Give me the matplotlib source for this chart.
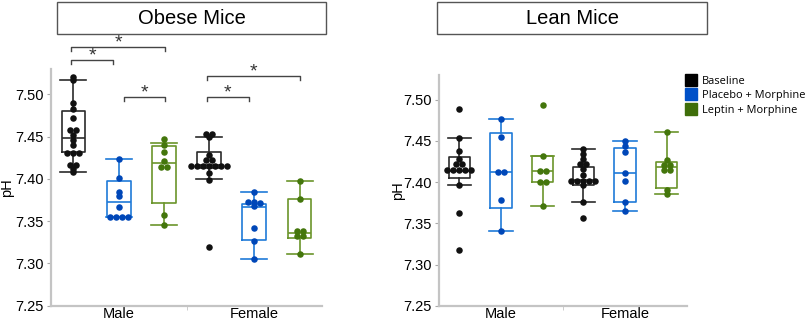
import numpy as np
import matplotlib
matplotlib.use("Agg")
import matplotlib.pyplot as plt
from matplotlib.lines import Line2D
from matplotlib.patches import Rectangle

plt.rcParams['font.family'] = ['Liberation Sans', 'DejaVu Sans']

sexes = ['Male', 'Female']
treatments = ['Baseline', 'Placebo + Morphine', 'Leptin + Morphine']
dot_colors = ['#111111', '#0047b8', '#44760c']
box_colors = ['#2b2b2b', '#1f7ad8', '#6b952b']

# individual pH values, obese mice
obese_male_base = [7.521, 7.517, 7.490, 7.483, 7.472, 7.458, 7.458, 7.452, 7.446, 7.440,
                   7.431, 7.431, 7.431, 7.416, 7.416, 7.412, 7.408]
obese_male_plac = [7.423, 7.401, 7.385, 7.380, 7.367, 7.355, 7.355, 7.355, 7.355]
obese_male_lept = [7.447, 7.440, 7.432, 7.421, 7.414, 7.414, 7.357, 7.345]
obese_fem_base = [7.453, 7.453, 7.450, 7.428, 7.422, 7.422, 7.415, 7.415, 7.415, 7.415,
                  7.415, 7.415, 7.415, 7.407, 7.399, 7.320]
obese_fem_plac = [7.384, 7.373, 7.373, 7.372, 7.368, 7.342, 7.327, 7.305]
obese_fem_lept = [7.398, 7.376, 7.338, 7.338, 7.332, 7.332, 7.311]

# individual pH values, lean mice
lean_male_base = [7.489, 7.453, 7.438, 7.428, 7.422, 7.422, 7.415, 7.415, 7.415, 7.415,
                  7.415, 7.397, 7.363, 7.318]
lean_male_plac = [7.476, 7.455, 7.412, 7.412, 7.378, 7.341]
lean_male_lept = [7.494, 7.432, 7.414, 7.414, 7.400, 7.400, 7.371]
lean_fem_base = [7.440, 7.434, 7.428, 7.422, 7.422, 7.416, 7.409, 7.401, 7.401, 7.401,
                 7.401, 7.401, 7.396, 7.376, 7.356]
lean_fem_plac = [7.450, 7.444, 7.436, 7.411, 7.401, 7.376, 7.365]
lean_fem_lept = [7.461, 7.427, 7.421, 7.421, 7.415, 7.415, 7.391, 7.385]

# box stats: (whisker low, q1, median, q3, whisker high)
obese_box = [(7.408, 7.432, 7.448, 7.480, 7.517),
             (7.355, 7.355, 7.373, 7.397, 7.423),
             (7.345, 7.371, 7.419, 7.439, 7.443),
             (7.400, 7.413, 7.416, 7.432, 7.449),
             (7.305, 7.328, 7.367, 7.370, 7.384),
             (7.311, 7.3305, 7.3365, 7.376, 7.3975)]
lean_box = [(7.397, 7.405, 7.414, 7.431, 7.453),
            (7.341, 7.369, 7.4125, 7.460, 7.476),
            (7.371, 7.400, 7.413, 7.432, 7.432),
            (7.376, 7.397, 7.402, 7.418, 7.440),
            (7.365, 7.376, 7.411, 7.442, 7.450),
            (7.385, 7.393, 7.418, 7.424, 7.461)]

# significance brackets on obese panel: (sex, treatment a, treatment b, height)
obese_sig = [(0, 0, 1, 7.541), (0, 0, 2, 7.556), (0, 1, 2, 7.497),
             (1, 0, 1, 7.497), (1, 0, 2, 7.522)]

obese_pts = [obese_male_base, obese_male_plac, obese_male_lept,
             obese_fem_base, obese_fem_plac, obese_fem_lept]
lean_pts = [lean_male_base, lean_male_plac, lean_male_lept,
            lean_fem_base, lean_fem_plac, lean_fem_lept]

W, H = 809, 322
fig = plt.figure(figsize=(W / 100, H / 100), dpi=100)
ax1 = fig.add_axes([51 / W, 1 - 305.7 / H, 271 / W, 236.7 / H])
ax2 = fig.add_axes([439 / W, 1 - 305.7 / H, 248 / W, 230.7 / H])

DODGE = 0.335


def swarm(vals, dx, tol=0.0028):
    vals = np.asarray(vals)
    order = np.argsort(-vals)
    offs = np.zeros(len(vals))
    groups, cur = [], [order[0]]
    for i in order[1:]:
        if abs(vals[cur[0]] - vals[i]) < tol:
            cur.append(i)
        else:
            groups.append(cur)
            cur = [i]
    groups.append(cur)
    for g in groups:
        n = len(g)
        for k, i in enumerate(g):
            offs[i] = (k - (n - 1) / 2) * dx
    return offs


def draw_panel(ax, pts, boxes, px_unit):
    for si in range(2):
        for ti in range(3):
            pos = si + (ti - 1) * DODGE
            lo, q1, med, q3, hi = boxes[si * 3 + ti]
            c = box_colors[ti]
            lp = dict(color=c, lw=1.2)
            ax.bxp([dict(whislo=lo, q1=q1, med=med, q3=q3, whishi=hi)],
                   positions=[pos], widths=0.175, capwidths=0.19,
                   showfliers=False, boxprops=lp, whiskerprops=lp,
                   capprops=lp, medianprops=lp, manage_ticks=False)
            vals = pts[si * 3 + ti]
            ax.scatter(pos + swarm(vals, 6.0 / px_unit), vals, s=22,
                       color=dot_colors[ti], linewidths=0, zorder=3)
    ax.set_xlim(-0.5, 1.5)
    ax.set_ylim(7.25, 7.53)
    ax.set_yticks(np.arange(7.25, 7.501, 0.05))
    ax.set_yticklabels([f'{v:.2f}' for v in np.arange(7.25, 7.501, 0.05)])
    ax.set_xticks([0, 1], sexes)
    ax.set_xticks([0.5], minor=True)
    for s in ['top', 'right']:
        ax.spines[s].set_visible(False)
    for s in ['left', 'bottom']:
        ax.spines[s].set_color('#c4c4c4')
        ax.spines[s].set_linewidth(1.6)
    ax.tick_params(axis='y', length=3, color='#aaaaaa', labelsize=10.5, pad=2)
    ax.tick_params(axis='x', which='major', length=0, labelsize=10.5, pad=1)
    ax.tick_params(axis='x', which='minor', length=3, color='#c4c4c4')
    ax.set_ylabel('pH', fontsize=10.5)
    ax.yaxis.set_label_coords(-0.137, 0.5)


draw_panel(ax1, obese_pts, obese_box, 135.5)
draw_panel(ax2, lean_pts, lean_box, 124)

for si, a, b, y in obese_sig:
    xa = si + (a - 1) * DODGE + (0.04 if a == 1 else -0.015)
    xb = si + (b - 1) * DODGE - (0.04 if b == 1 else -0.005)
    ax1.plot([xa, xa, xb, xb], [y - 0.0045, y, y, y - 0.0045], color='#444444',
             lw=1, clip_on=False)
    ax1.text((xa + xb) / 2, y + 0.005, '*', ha='center', va='center',
             fontsize=14, color='#333333', clip_on=False)

# panel header boxes
for x0, x1, name in [(57, 326, 'Obese Mice'), (437, 707, 'Lean Mice')]:
    fig.patches.append(Rectangle((x0 / W, 1 - 34 / H), (x1 - x0) / W, 32 / H,
                                 transform=fig.transFigure, fill=False,
                                 ec='#555555', lw=1))
    fig.text((x0 + x1) / 2 / W, 1 - 18.5 / H, name, ha='center', va='center',
             fontsize=14.5)

handles = [Line2D([], [], marker='s', ls='', color=c, markersize=8)
           for c in ['#000000', '#0050c8', '#3f6e0a']]
fig.legend(handles, treatments, loc='upper left',
           bbox_to_anchor=(685 / W, 1 - 76 / H), frameon=False,
           prop=dict(family='Open Sans', size=7.9), handlelength=1.1,
           handletextpad=0.45, labelspacing=0.3, borderaxespad=0,
           borderpad=0)

fig.savefig('out.png', dpi=100)
